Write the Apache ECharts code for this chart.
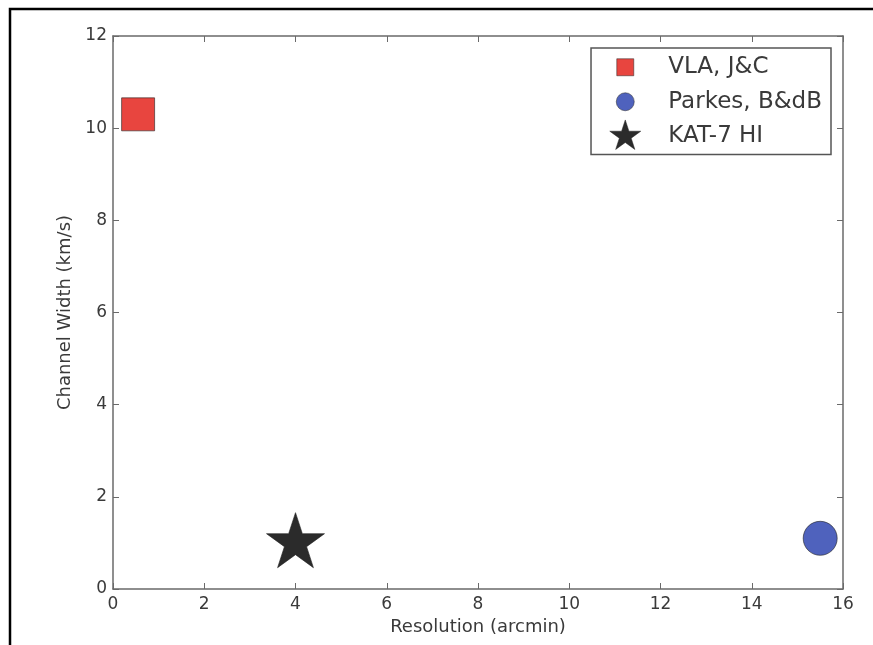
<!DOCTYPE html>
<html>
<head>
<meta charset="utf-8">
<script src="https://cdn.jsdelivr.net/npm/echarts@6/dist/echarts.min.js"></script>
<style>
  html, body { margin: 0; padding: 0; background: #ffffff; }
  #chart { width: 873px; height: 645px; }
</style>
</head>
<body>
<div id="chart"></div>
<script>
// Survey comparison: spatial resolution vs. velocity channel width
const surveyNames = ['VLA, J&C', 'Parkes, B&dB', 'KAT-7 HI'];
const resolutionArcmin = [0.55, 15.5, 4.0];
const channelWidthKms = [10.3, 1.1, 1.0];

const xRange = [0, 16];
const yRange = [0, 12];
const tickStep = 2;

const markerColors = ['#e8453f', '#4f62bd', '#2b2b2b'];
const textColor = '#3a3a3a';
const axisColor = '#6a6a6a';

// Five-pointed star outline, optional invisible padding box (via moveTo points)
function starPath(cx, cy, r, boxW, boxH) {
  const ri = r * 0.382;
  let d = '';
  if (boxW) d += 'M0,0M' + boxW + ',' + boxH;
  for (let i = 0; i < 10; i++) {
    const a = i * Math.PI / 5;
    const rr = i % 2 === 0 ? r : ri;
    const x = cx + rr * Math.sin(a);
    const y = cy - rr * Math.cos(a);
    d += (i === 0 ? 'M' : 'L') + x.toFixed(2) + ',' + y.toFixed(2);
  }
  return 'path://' + d + 'Z';
}

// legend handles: shape drawn left of centre inside a wide slot
const LW = 72, LH = 34, LX = 34, LY = 17;
const legendIcons = [
  'path://M0,0M' + LW + ',' + LH + 'M' + (LX - 8.5) + ',' + (LY - 8.5) + 'h17v17h-17Z',
  'path://M0,0M' + LW + ',' + LH + 'M' + (LX - 9) + ',' + LY + 'a9,9 0 1,0 18,0a9,9 0 1,0 -18,0Z',
  starPath(LX, LY, 16.3, LW, LH)
];

const markerSymbols = ['rect', 'circle', starPath(0, 0, 30, 0, 0)];
const markerSizes = [33, 34, [58, 55]];
const markerOffsets = [[0, 0], [0, 0], [0, '-5%']];

const series = surveyNames.map((name, i) => ({
  name: name,
  type: 'scatter',
  xAxisIndex: 0,
  yAxisIndex: 0,
  data: [[resolutionArcmin[i], channelWidthKms[i]]],
  symbol: markerSymbols[i],
  symbolSize: markerSizes[i],
  symbolOffset: markerOffsets[i],
  itemStyle: {
    color: markerColors[i],
    borderColor: '#222222',
    borderWidth: 0.6,
    opacity: 1
  },
  emphasis: { disabled: true }
}));

const baseAxis = {
  axisLine: { show: true, onZero: false, lineStyle: { color: axisColor, width: 1.5 } },
  axisTick: { show: true, inside: true, length: 6, lineStyle: { color: axisColor, width: 1 } },
  splitLine: { show: false }
};

const chart = echarts.init(document.getElementById('chart'), null, { renderer: 'canvas' });
chart.setOption({
  backgroundColor: '#ffffff',
  animation: false,
  textStyle: { fontFamily: 'DejaVu Sans' },
  grid: { left: 113, right: 30, top: 36, bottom: 56, containLabel: false },
  legend: {
    orient: 'vertical',
    right: 42,
    top: 48,
    padding: [2, 9, 1, 0],
    itemGap: 0,
    itemWidth: LW,
    itemHeight: LH,
    selectedMode: false,
    borderColor: '#555555',
    borderWidth: 1.5,
    borderRadius: 0,
    backgroundColor: '#ffffff',
    textStyle: { fontSize: 23, color: textColor, fontFamily: 'DejaVu Sans' },
    data: surveyNames.map((n, i) => ({
      name: n,
      icon: legendIcons[i],
      itemStyle: { color: markerColors[i], borderColor: '#222222', borderWidth: 0.5 }
    }))
  },
  xAxis: [
    Object.assign({}, baseAxis, {
      type: 'value',
      position: 'bottom',
      min: xRange[0], max: xRange[1], interval: tickStep,
      name: 'Resolution (arcmin)',
      nameLocation: 'middle',
      nameGap: 28,
      nameTextStyle: { fontSize: 18, color: textColor },
      axisLabel: { fontSize: 17, color: textColor, margin: 7 }
    }),
    Object.assign({}, baseAxis, {
      type: 'value',
      position: 'top',
      min: xRange[0], max: xRange[1], interval: tickStep,
      axisLabel: { show: false }
    })
  ],
  yAxis: [
    Object.assign({}, baseAxis, {
      type: 'value',
      position: 'left',
      min: yRange[0], max: yRange[1], interval: tickStep,
      name: 'Channel Width (km/s)',
      nameLocation: 'middle',
      nameGap: 31,
      nameTextStyle: { fontSize: 18, color: textColor },
      axisLabel: { fontSize: 17, color: textColor, margin: 6 }
    }),
    Object.assign({}, baseAxis, {
      type: 'value',
      position: 'right',
      min: yRange[0], max: yRange[1], interval: tickStep,
      axisLabel: { show: false }
    })
  ],
  graphic: [{
    type: 'rect',
    silent: true,
    shape: { x: 10, y: 9, width: 900, height: 700 },
    style: { fill: 'none', stroke: '#000000', lineWidth: 2.5 }
  }],
  series: series
});
</script>
</body>
</html>
